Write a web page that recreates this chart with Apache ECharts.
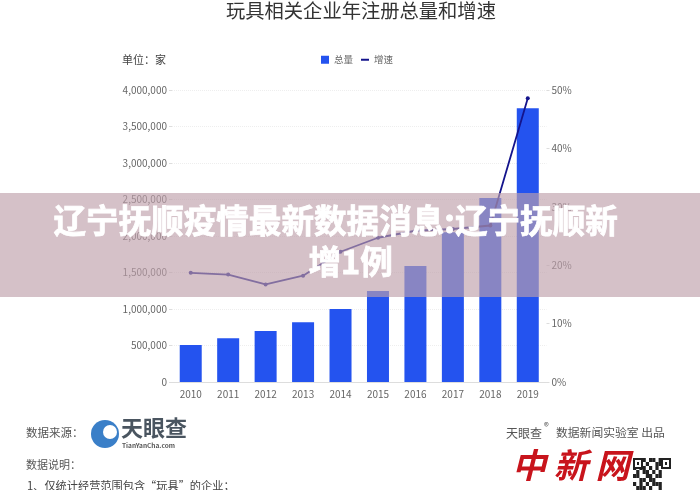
<!DOCTYPE html>
<html><head><meta charset="utf-8">
<style>html,body{margin:0;padding:0;background:#fff}#c{width:700px;height:490px}</style>
<script src="https://cdn.jsdelivr.net/npm/echarts@6/dist/echarts.min.js"></script>
</head><body><div id="c"></div>
<script>
const categories=['2010','2011','2012','2013','2014','2015','2016','2017','2018','2019'];
const totalValues=[507000,600000,700000,820000,1000000,1245000,1590000,2050000,2520000,3750000];
const growthValues=[18.7,18.4,16.7,18.2,22.3,24.7,25.9,26.2,26.8,48.6];
const leftTicks=['0','500,000','1,000,000','1,500,000','2,000,000','2,500,000','3,000,000','3,500,000','4,000,000'];
const F='"Noto Sans CJK SC","Noto Sans",sans-serif';
const gray='#666';
const qrRows=['110101101','011010011','101101010','010110101','110011011','001101100','101010111','011101001'];
const chart=echarts.init(document.getElementById('c'),null,{renderer:'canvas'});
function txt(x,y,t,size,color,extra){return {type:'text',left:x,top:y,z:5,style:Object.assign({text:t,fontFamily:F,fontSize:size,fill:color},extra||{})};}
function box(x,y,w,h,fill,z){return {type:'rect',shape:{x:x,y:y,width:w,height:h},style:{fill:fill},z:z||6};}
const qr=[box(633,458,38,32,'#fff',6)];
qrRows.forEach((r,j)=>r.split('').forEach((c,i)=>{if(c==='1')qr.push(box(633+i*3.2,458+j*4,3.2,4,'#222',7));}));
qr.push(box(661,458,10,11,'#222',8),box(663,460,6,7,'#fff',8),box(665,462,2,3,'#222',8));
qr.push(box(633,458,10,11,'#222',8),box(635,460,6,7,'#fff',8),box(637,462,2,3,'#222',8));
chart.setOption({
 animation:false,backgroundColor:'#fff',
 title:{text:'玩具相关企业年注册总量和增速',left:221,top:-4,textStyle:{fontFamily:F,fontSize:19.3,fontWeight:'normal',color:'#333'}},
 legend:{data:[{name:'总量',icon:'rect'},{name:'增速',icon:'path://M0,0H8V2H0Z'}],left:316,top:50,itemWidth:8,itemHeight:8,itemGap:8,textStyle:{fontFamily:F,fontSize:9.5,color:'#666'}},
 grid:{left:172,right:153.5,top:90,bottom:108},
 xAxis:{type:'category',data:categories,axisLine:{lineStyle:{color:'#ddd'}},axisTick:{show:false},axisLabel:{fontFamily:F,fontSize:10,color:gray,margin:7}},
 yAxis:[
  {type:'value',min:0,max:4000000,interval:500000,axisLine:{show:false},axisTick:{show:true,length:3,lineStyle:{color:'#ddd'}},
   axisLabel:{fontFamily:F,fontSize:10,color:gray,margin:5,formatter:v=>leftTicks[v/500000]},
   splitLine:{show:true,lineStyle:{color:'#eee',type:'dotted'}}},
  {type:'value',min:0,max:50,interval:10,axisLine:{show:false},axisTick:{show:true,length:3,lineStyle:{color:'#ddd'}},
   axisLabel:{fontFamily:F,fontSize:10,color:gray,margin:5,formatter:'{value}%'},splitLine:{show:false}}
 ],
 series:[
  {name:'总量',type:'bar',data:totalValues,barWidth:22,itemStyle:{color:'#2453ef'},yAxisIndex:0},
  {name:'增速',type:'line',data:growthValues,yAxisIndex:1,symbol:'circle',symbolSize:4,lineStyle:{color:'#14148c',width:1.8},itemStyle:{color:'#14148c'},z:4}
 ],
 graphic:{elements:[
  txt(122,54,'单位：家',11,'#444'),
  txt(26,427,'数据来源：',11.5,'#555'),
  {type:'circle',shape:{cx:105,cy:434,r:14},style:{fill:'#3a7fc8'},z:5},
  {type:'circle',shape:{cx:110,cy:432,r:7},style:{fill:'#fff'},z:5},
  txt(121,417,'天眼查',22,'#4a5560',{fontWeight:'bold'}),
  txt(122,442,'TianYanCha.com',6.5,'#555',{fontWeight:'bold'}),
  txt(26,459,'数据说明：',11,'#555'),
  txt(27,480,'1、仅统计经营范围包含“玩具”的企业；',11.2,'#444'),
  txt(506,427,'天眼查',12,'#555'),
  txt(544,421,'®',10,'#555'),
  txt(556,427,'数据新闻实验室 出品',11.8,'#555'),
  txt(512,448,'中 新 网',34,'#c8141c',{fontWeight:'bold',fontStyle:'italic'}),
  ...qr,
  box(0,193,700,104,'rgba(190,160,170,0.65)',20),
  {type:'text',left:53,top:204,z:21,style:{text:'辽宁抚顺疫情最新数据消息:辽宁抚顺新',fontFamily:F,fontWeight:'bold',fontSize:32.6,fill:'#fff',stroke:'#fff',lineWidth:0.8}},
  {type:'text',left:308,top:245,z:21,style:{text:'增1例',fontFamily:F,fontWeight:'bold',fontSize:32.6,fill:'#fff',stroke:'#fff',lineWidth:0.8}}
 ]}
});
</script></body></html>
